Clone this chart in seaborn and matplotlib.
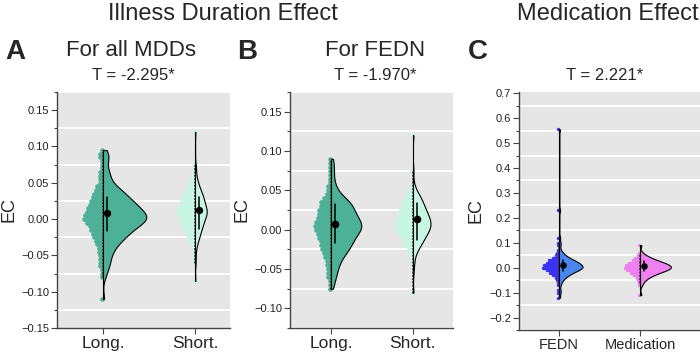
import matplotlib
matplotlib.use("Agg")
import matplotlib.pyplot as plt
from matplotlib.patches import Rectangle
import seaborn as sns
import pandas as pd
import numpy as np
from matplotlib.ticker import MultipleLocator

# EC value of each dot row and number of stacked dots in that row
all_long_ec = [0.095, 0.090, 0.085, 0.080, 0.075, 0.070, 0.065, 0.060, 0.055, 0.050, 0.045, 0.040,
               0.035, 0.030, 0.025, 0.020, 0.015, 0.010, 0.005, 0.000, -0.005, -0.010, -0.015,
               -0.020, -0.025, -0.030, -0.035, -0.040, -0.045, -0.050, -0.055, -0.060, -0.065,
               -0.070, -0.075, -0.080, -0.110]
all_long_n = [1, 2, 2, 1, 1, 1, 2, 2, 2, 2, 4, 5, 6, 7, 8, 9, 10, 11, 12, 13, 11, 9, 8, 7, 6, 5, 4,
              3, 3, 2, 2, 2, 2, 1, 1, 1, 1]
all_short_ec = [0.120, 0.075, 0.070, 0.065, 0.060, 0.055, 0.050, 0.045, 0.040, 0.035, 0.030, 0.025,
                0.020, 0.015, 0.010, 0.005, 0.000, -0.005, -0.010, -0.015, -0.020, -0.025, -0.030,
                -0.035, -0.040, -0.045, -0.055, -0.060, -0.085]
all_short_n = [1, 1, 1, 1, 1, 2, 3, 4, 5, 7, 8, 9, 9, 11, 12, 11, 9, 8, 7, 6, 5, 4, 3, 2, 1, 1, 1,
               1, 1]

fedn_long_ec = [0.090, 0.085, 0.080, 0.075, 0.070, 0.065, 0.060, 0.055, 0.050, 0.045, 0.040, 0.035,
                0.030, 0.025, 0.020, 0.015, 0.010, 0.005, 0.000, -0.005, -0.010, -0.015, -0.020,
                -0.025, -0.030, -0.035, -0.040, -0.045, -0.050, -0.055, -0.060, -0.065, -0.070,
                -0.075]
fedn_long_n = [1, 1, 1, 1, 1, 1, 1, 2, 2, 3, 5, 7, 7, 8, 8, 9, 10, 11, 10, 9, 8, 7, 7, 6, 5, 4, 3,
               3, 2, 2, 2, 1, 1, 1]
fedn_short_ec = [0.120, 0.075, 0.060, 0.055, 0.050, 0.045, 0.040, 0.035, 0.030, 0.025, 0.020, 0.015,
                 0.010, 0.005, 0.000, -0.005, -0.010, -0.015, -0.020, -0.025, -0.030, -0.035,
                 -0.040, -0.045, -0.055, -0.080]
fedn_short_n = [1, 1, 1, 1, 2, 4, 5, 6, 7, 8, 9, 10, 11, 11, 10, 9, 7, 6, 5, 3, 2, 1, 1, 1, 1, 1]

med_fedn_ec = [0.555, 0.230, 0.120, 0.100, 0.090, 0.070, 0.060, 0.050, 0.040, 0.030, 0.020, 0.010,
               0.000, -0.010, -0.020, -0.030, -0.040, -0.050, -0.060, -0.070, -0.090, -0.100, -0.120]
med_fedn_n = [1, 1, 1, 1, 1, 1, 2, 3, 5, 8, 10, 12, 13, 10, 7, 5, 3, 2, 1, 1, 1, 1, 1]
med_med_ec = [0.090, 0.060, 0.050, 0.040, 0.030, 0.020, 0.010, 0.000, -0.010, -0.020, -0.030,
              -0.040, -0.050, -0.060, -0.070, -0.110]
med_med_n = [1, 1, 2, 4, 6, 9, 11, 12, 10, 7, 5, 3, 2, 1, 1, 1]

# mean (dot) and box Q1-Q3 (thick line)
all_mean, all_q1, all_q3 = [0.0088, 0.0125], [-0.016, -0.013], [0.031, 0.031]
fedn_mean, fedn_q1, fedn_q3 = [0.0077, 0.013], [-0.017, -0.013], [0.033, 0.034]
med_mean, med_q1, med_q3 = [0.012, 0.005], [-0.014, -0.012], [0.032, 0.025]

dur_cats = ["Long.", "Short."]
med_cats = ["FEDN", "Medication"]
t_labels = ["T = -2.295*", "T = -1.970*", "T = 2.221*"]

sns.set_style("ticks")
plt.rcParams["font.family"] = ["Liberation Sans", "DejaVu Sans"]

fig = plt.figure(figsize=(7.0, 3.54), dpi=100)
axA = fig.add_axes([57 / 700, 26 / 354, 173 / 700, 236 / 354])
axB = fig.add_axes([290 / 700, 26 / 354, 163 / 700, 236 / 354])
axC = fig.add_axes([518.7 / 700, 24 / 354, 181.3 / 700, 238 / 354])


def half_violin(ax, cats, i, ec, n, mean, q1, q3, dot_col, vio_col, vwidth, bw, dx, ms, big):
    vals = np.repeat(ec, n)
    df = pd.DataFrame({"group": cats[i], "EC": vals})
    before = len(ax.collections)
    sns.violinplot(data=df, x="group", y="EC", order=cats, color=vio_col, saturation=1,
                   inner=None, cut=0, bw_adjust=bw, width=vwidth, linecolor="black",
                   linewidth=0.8, ax=ax, zorder=3)
    # keep only the right half of the violin
    for coll in ax.collections[before:]:
        coll.set_clip_path(Rectangle((i, -10), 10, 20, transform=ax.transData))
    # range line at the centre
    ax.plot([i, i], [vals.min(), vals.max()], color="black", lw=0.8, zorder=4)
    # dots stacked to the left of the centre line
    xs = np.concatenate([i - dx * (np.arange(k) + 0.7) for k in n])
    ax.scatter(xs, vals, s=ms, color=dot_col, linewidths=0, zorder=2)
    # dashed whisker line
    iqr = q3 - q1
    lo = vals[vals >= q1 - 1.5 * iqr].min()
    hi = vals[vals <= q3 + 1.5 * iqr].max()
    ax.plot([i - 0.012, i - 0.012], [lo, hi], color="#333333", lw=0.6, ls=(0, (2.5, 1.5)), zorder=4)
    ax.plot([i + 0.045, i + 0.045], [q1, q3], color="black", lw=1.1, zorder=5)
    ax.scatter([i + 0.045], [mean], s=big, color="black", linewidths=0, zorder=6)


teal, mint = "#4DB197", "#C8F6E5"
half_violin(axA, dur_cats, 0, all_long_ec, all_long_n, all_mean[0], all_q1[0], all_q3[0],
            teal, teal, 0.94, 0.6, 0.0163, 11, 28)
half_violin(axA, dur_cats, 1, all_short_ec, all_short_n, all_mean[1], all_q1[1], all_q3[1],
            mint, mint, 0.254, 0.6, 0.0163, 11, 28)
half_violin(axB, dur_cats, 0, fedn_long_ec, fedn_long_n, fedn_mean[0], fedn_q1[0], fedn_q3[0],
            teal, teal, 0.74, 0.6, 0.0183, 11, 30)
half_violin(axB, dur_cats, 1, fedn_short_ec, fedn_short_n, fedn_mean[1], fedn_q1[1], fedn_q3[1],
            mint, mint, 0.43, 0.6, 0.0183, 11, 30)
half_violin(axC, med_cats, 0, med_fedn_ec, med_fedn_n, med_mean[0], med_q1[0], med_q3[0],
            "#3A32F2", "#4A86EE", 0.58, 0.3, 0.0161, 6, 22)
half_violin(axC, med_cats, 1, med_med_ec, med_med_n, med_mean[1], med_q1[1], med_q3[1],
            "#EE80F0", "#EE80F0", 0.76, 0.7, 0.0161, 6, 22)

limits = [((-0.5, 1.38), (-0.15, 0.175), 0.05), ((-0.5, 1.49), (-0.125, 0.175), 0.05),
          ((-0.5, 1.74), (-0.25, 0.705), 0.1)]
for ax, (xl, yl, step), xfs in zip([axA, axB, axC], limits, [12.5, 12.5, 10.5]):
    ax.set_xlim(*xl)
    ax.set_ylim(*yl)
    ax.set_facecolor("#E6E6E6")
    ax.yaxis.set_major_locator(MultipleLocator(step))
    ax.yaxis.set_minor_locator(MultipleLocator(step / 2))
    ax.grid(False)
    ax.grid(which="minor", axis="y", color="white", lw=1.3, zorder=0)
    ax.set_axisbelow(True)
    for s in ["top", "right"]:
        ax.spines[s].set_visible(False)
    for s in ["left", "bottom"]:
        ax.spines[s].set_color("#444444")
        ax.spines[s].set_linewidth(1.0)
    ax.tick_params(axis="y", which="major", length=4, width=0.8, color="#444444", labelsize=8,
                   labelcolor="#222222", pad=1.5)
    ax.tick_params(axis="y", which="minor", length=2, width=0.8, color="#444444")
    ax.tick_params(axis="x", length=4, width=0.8, color="#444444", labelsize=xfs, pad=2)
    ax.set_xlabel("")
    ax.set_ylabel("EC", fontsize=13)

axA.yaxis.set_label_coords(-0.231, 0.5)
axB.yaxis.set_label_coords(-0.245, 0.5)
axC.yaxis.set_label_coords(-0.186, 0.5)

fig.text(223 / 700, 1 - 14 / 354, "Illness Duration Effect", fontsize=17, ha="center", va="center")
fig.text(608 / 700, 1 - 14 / 354, "Medication Effect", fontsize=17, ha="center", va="center")
for x, letter in zip([15, 247, 478], ["A", "B", "C"]):
    fig.text(x / 700, 1 - 52 / 354, letter, fontsize=20, fontweight="bold", ha="center", va="center")
fig.text(131 / 700, 1 - 50 / 354, "For all MDDs", fontsize=16, ha="center", va="center")
fig.text(375 / 700, 1 - 50 / 354, "For FEDN", fontsize=16, ha="center", va="center")
for x, t in zip([133, 375, 605], t_labels):
    fig.text(x / 700, 1 - 76 / 354, t, fontsize=12, ha="center", va="center")

fig.savefig("out.png", dpi=100)
